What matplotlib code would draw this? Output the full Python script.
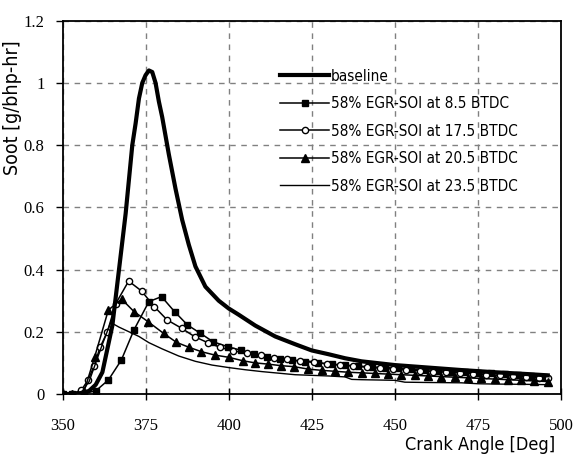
import matplotlib
matplotlib.use("Agg")
import matplotlib.pyplot as plt

# === Data ===
base_x = [350, 353, 356, 358, 360, 362, 363, 365, 367, 369, 371, 372, 373, 374, 375, 376,
          377, 378, 379, 380, 382, 384, 386, 388, 390, 393, 397, 400, 403, 408, 414, 420,
          425, 430, 435, 440, 450, 460, 470, 480, 490, 496]
base_y = [0, 0, 0.003, 0.01, 0.03, 0.07, 0.12, 0.22, 0.40, 0.58, 0.80, 0.87, 0.95, 1.0,
          1.025, 1.04, 1.035, 1.0, 0.94, 0.89, 0.77, 0.66, 0.56, 0.48, 0.41, 0.345, 0.30,
          0.275, 0.255, 0.22, 0.185, 0.16, 0.14, 0.128, 0.115, 0.105, 0.093, 0.085, 0.077,
          0.07, 0.064, 0.06]

soi85_x = [350, 352.8, 356.4, 360, 363.8, 367.7, 371.5, 376, 379.8, 383.7, 387.6, 391.5,
           395.3, 399.7, 403.6, 407.5, 411.4, 415.3, 419.2, 423.1, 427, 431, 435, 439, 443,
           447, 451, 455, 459, 463, 467, 471, 475, 479, 483, 487, 491, 495]
soi85_y = [0, 0, 0.002, 0.01, 0.045, 0.109, 0.206, 0.297, 0.313, 0.265, 0.222, 0.195, 0.168,
           0.152, 0.141, 0.128, 0.12, 0.113, 0.108, 0.104, 0.1, 0.096, 0.093, 0.09, 0.087,
           0.085, 0.083, 0.08, 0.078, 0.075, 0.072, 0.07, 0.068, 0.066, 0.063, 0.06, 0.058,
           0.055]

soi175_x = [350, 352.8, 355.7, 357.7, 359.5, 361.3, 363.5, 366, 369.9, 373.8, 377.6, 381.5,
            385.9, 389.8, 393.7, 397.5, 401.4, 405.5, 409.7, 413.6, 417.4, 421.6, 425.7,
            429.6, 433.5, 437.3, 441.7, 445.5, 449.5, 453.5, 457.5, 461.5, 465.5, 469.5,
            473.5, 477.5, 481.5, 485.5, 489.5, 493.5, 496]
soi175_y = [0, 0, 0.013, 0.045, 0.09, 0.15, 0.2, 0.29, 0.363, 0.331, 0.281, 0.238, 0.211,
            0.184, 0.165, 0.15, 0.138, 0.133, 0.124, 0.115, 0.111, 0.107, 0.104, 0.096,
            0.093, 0.09, 0.086, 0.083, 0.08, 0.077, 0.075, 0.072, 0.07, 0.068, 0.065, 0.062,
            0.06, 0.058, 0.055, 0.052, 0.05]

soi205_x = [350, 353, 356.4, 359.7, 363.8, 367.8, 371.5, 375.8, 380.4, 384.3, 388.1, 391.8,
            395.9, 400, 404.2, 408, 411.9, 415.8, 419.6, 424, 428, 432, 436, 440, 444, 448,
            452, 456, 460, 464, 468, 472, 476, 480, 484, 488, 492, 496]
soi205_y = [0, 0, 0.005, 0.12, 0.27, 0.305, 0.265, 0.232, 0.195, 0.166, 0.15, 0.136, 0.125,
            0.118, 0.107, 0.1, 0.096, 0.091, 0.088, 0.08, 0.076, 0.073, 0.07, 0.068, 0.066,
            0.064, 0.062, 0.06, 0.058, 0.056, 0.054, 0.052, 0.05, 0.048, 0.046, 0.044,
            0.042, 0.04]

soi235_x = [350, 354, 356, 358, 360, 362, 364.5, 367, 370, 373, 376, 380, 385, 390, 395,
            400, 405, 410, 415, 420, 425, 430, 435, 437, 440, 450, 453, 460, 470, 475, 480,
            490, 496]
soi235_y = [0, 0, 0.01, 0.04, 0.1, 0.16, 0.23, 0.215, 0.2, 0.185, 0.165, 0.145, 0.122,
            0.105, 0.093, 0.085, 0.078, 0.072, 0.067, 0.062, 0.06, 0.058, 0.055, 0.047,
            0.046, 0.044, 0.038, 0.037, 0.036, 0.033, 0.032, 0.031, 0.03]

labels = ['baseline',
          '58% EGR-SOI at 8.5 BTDC',
          '58% EGR-SOI at 17.5 BTDC',
          '58% EGR-SOI at 20.5 BTDC',
          '58% EGR-SOI at 23.5 BTDC']

x_ticks = [350, 375, 400, 425, 450, 475, 500]
y_ticks = [0, 0.2, 0.4, 0.6, 0.8, 1.0, 1.2]
y_ticklabels = ['0', '0.2', '0.4', '0.6', '0.8', '1', '1.2']

narrow = ['DejaVu Sans']
serif = ['Liberation Serif', 'DejaVu Serif']

# === Plot ===
fig = plt.figure(figsize=(5.75, 4.59), dpi=100)
ax = fig.add_axes([0.1087, 0.1416, 0.867, 0.8133])

ax.plot(base_x, base_y, color='black', lw=3.0, label=labels[0], zorder=5)
ax.plot(soi85_x, soi85_y, color='black', lw=1.1, marker='s', ms=4.5, label=labels[1])
ax.plot(soi175_x, soi175_y, color='black', lw=1.1, marker='o', ms=4.5,
        mfc='white', mew=1.0, label=labels[2])
ax.plot(soi205_x, soi205_y, color='black', lw=1.1, marker='^', ms=6, label=labels[3])
ax.plot(soi235_x, soi235_y, color='black', lw=1.0, label=labels[4])

ax.set_xlim(350, 500)
ax.set_ylim(0, 1.2)
ax.set_xticks(x_ticks)
ax.set_yticks(y_ticks)
ax.set_yticklabels(y_ticklabels)
for lab in ax.get_xticklabels() + ax.get_yticklabels():
    lab.set_family(serif)
    lab.set_fontsize(12)
ax.tick_params(axis='x', direction='inout', length=8, width=1, pad=13)
ax.tick_params(axis='y', direction='out', length=5, width=1, pad=8)

ax.grid(True, color='#808080', linestyle=(0, (4, 4)), linewidth=1)
ax.set_axisbelow(True)
for s in ax.spines.values():
    s.set_linewidth(1.3)

ax.text(0.988, -0.137, 'Crank Angle [Deg]', transform=ax.transAxes, ha='right', va='center',
        fontsize=13, family=narrow, stretch='condensed')
ax.text(-0.1, 0.767, 'Soot [g/bhp-hr]', transform=ax.transAxes, ha='center', va='center',
        rotation=90, fontsize=14, family=narrow, stretch='condensed')

ax.legend(loc='upper left', bbox_to_anchor=(0.425, 0.888), frameon=False,
          prop={'family': narrow, 'size': 11, 'stretch': 'condensed'}, numpoints=1,
          handlelength=3.2, handletextpad=0.1, labelspacing=0.82, borderaxespad=0)

fig.savefig('out.png', dpi=100)
